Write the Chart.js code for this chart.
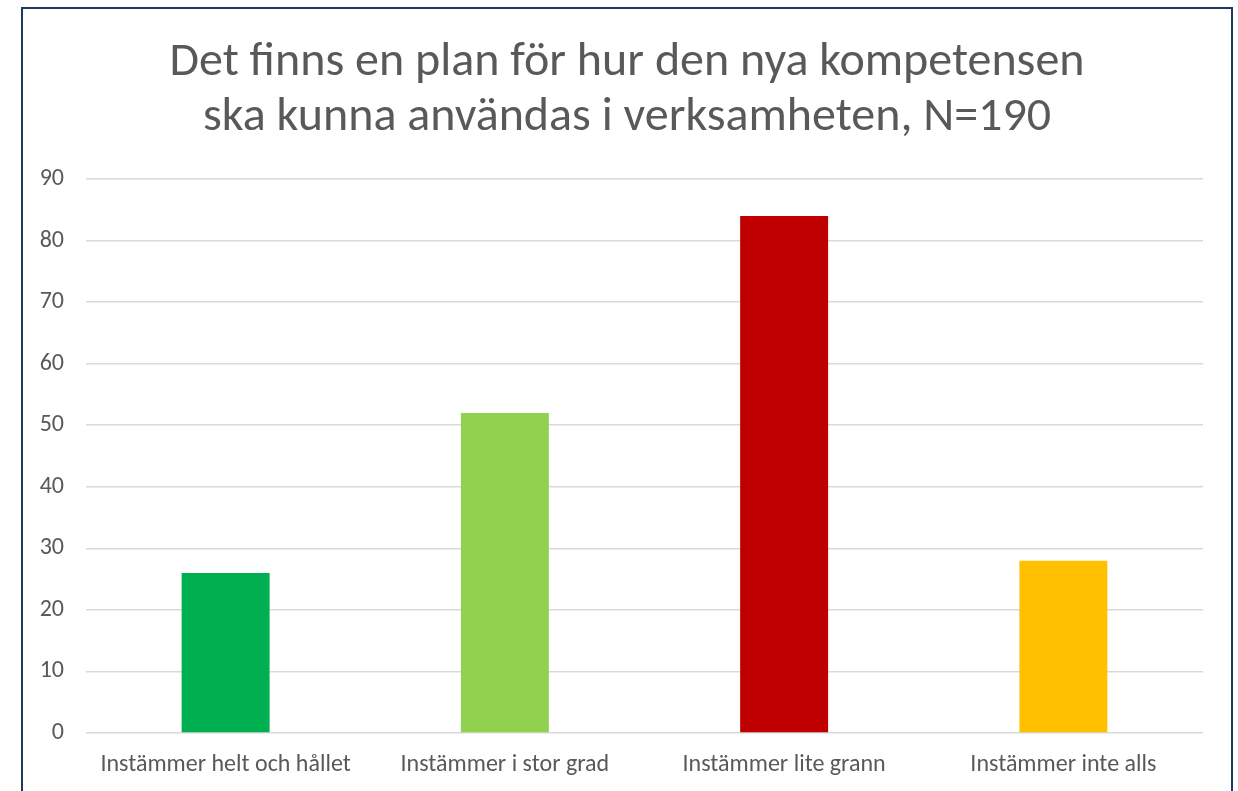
<!DOCTYPE html>
<html>
<head>
<meta charset="utf-8">
<script src="https://cdn.jsdelivr.net/npm/chart.js@4"></script>
<style>
  html, body { margin: 0; padding: 0; background: #fff; overflow: hidden; }
  #wrap { position: relative; width: 1238px; height: 791px; }
  #frame { position: absolute; left: 21px; top: 7px; width: 1212px; height: 820px;
           border: 2px solid #1F3864; box-sizing: border-box; pointer-events: none; }
</style>
</head>
<body>
<div id="wrap">
  <canvas id="myChart" width="1238" height="791"></canvas>
  <div id="frame"></div>
</div>
<script>
const categories = ['Instämmer helt och hållet', 'Instämmer i stor grad', 'Instämmer lite grann', 'Instämmer inte alls']
const counts = [26, 52, 84, 28]
const barColors = ['#00B050', '#92D050', '#C00000', '#FFC000']
const titleLines = ['Det finns en plan för hur den nya kompetensen', 'ska kunna användas i verksamheten, N=190']

const fontFam = 'Carlito, Lato, sans-serif'
const ctx = document.getElementById('myChart')

// title is centred on the frame, not on the plot, so draw it by hand
const frameTitle = {
  id: 'frameTitle',
  afterDraw(chart) {
    const c = chart.ctx
    c.save()
    c.font = '48px ' + fontFam
    c.fillStyle = '#595959'
    c.textAlign = 'center'
    c.textBaseline = 'alphabetic'
    titleLines.forEach((line, i) => c.fillText(line, 627, 75 + i * 55))
    c.restore()
  }
}

new Chart(ctx, {
  type: 'bar',
  data: {
    labels: categories,
    datasets: [{
      data: counts,
      backgroundColor: barColors,
      borderWidth: 0,
      categoryPercentage: 1,
      barPercentage: 0.315
    }]
  },
  options: {
    responsive: false,
    animation: false,
    layout: { padding: { left: 22, right: 35, top: 179, bottom: 0 } },
    plugins: {
      legend: { display: false },
      tooltip: { enabled: false },
      title: { display: false }
    },
    scales: {
      x: {
        grid: { display: false },
        border: { display: false },
        ticks: { color: '#595959', font: { family: fontFam, size: 24 }, padding: 10, maxRotation: 0 },
        afterFit: s => { s.height = 58 }
      },
      y: {
        min: 0,
        max: 90,
        ticks: { stepSize: 10, color: '#595959', font: { family: fontFam, size: 24 }, padding: 22 },
        grid: { color: '#D9D9D9', lineWidth: 1.5, drawTicks: false },
        border: { display: false },
        afterFit: s => { s.width = 64 }
      }
    }
  },
  plugins: [frameTitle]
})
</script>
</body>
</html>
